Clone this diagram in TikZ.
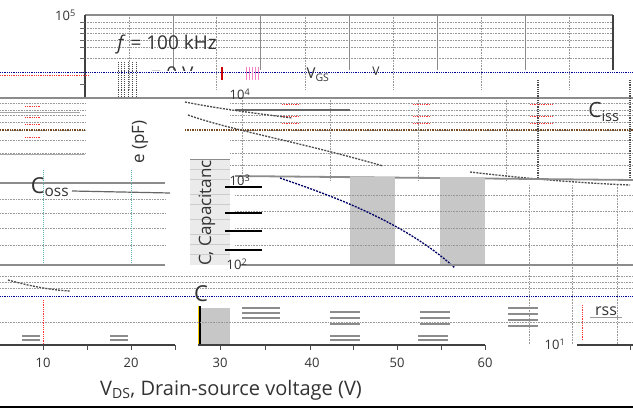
\documentclass[tikz,border=0pt]{standalone}
\usepackage{fontspec}
\setmainfont{Open Sans}
\begin{document}
\begin{tikzpicture}[x=1pt,y=-1pt,
  lbl/.style={inner sep=0pt,anchor=center,text=black!80},
  tick/.style={lbl,font=\fontsize{13}{14}\selectfont},
  majgrid/.style={draw=black!45,line width=1pt},
  mingrid/.style={draw=black!40,densely dotted,line width=0.6pt},
  axisline/.style={draw=black!75,line width=1.6pt},
  frameline/.style={draw=black!45,line width=1.8pt},
  curve/.style={draw=black!70,dash pattern=on 2pt off 1.2pt,line width=1.3pt},
  bluedot/.style={draw=blue!60!black,densely dotted,line width=0.8pt},
  reddot/.style={draw=red!80,densely dotted,line width=0.8pt},
  graybox/.style={fill=black!22,draw=none}]
\useasboundingbox (0,0) rectangle (633,409);
\fill[white] (0,0) rectangle (633,409);

% ---------- top panel ----------
\foreach \y in {22,28,33,40,47,58} \draw[mingrid] (85,\y) -- (613,\y);
\foreach \x in {129,216,305,393,481,569} \draw[mingrid] (\x,15) -- (\x,90);
\foreach \x in {173,260,349,437,525} \draw[majgrid] (\x,15) -- (\x,70);
\draw[frameline] (85,15) -- (613,15);
\draw[axisline] (613,15) -- (613,70);
\draw[axisline] (85,15) -- (85,98);
\foreach \y in {22,28,33,40,47,58,72,84} \draw[draw=black!60,line width=0.8pt] (80,\y) -- (85,\y);
\node[tick,anchor=east] (y5) at (76,15) {10\textsuperscript{5}};
\node[lbl,font=\fontsize{19}{20}\selectfont] (freq) at (167,45) {\textit{f} = 100 kHz};
\draw[bluedot] (0,72) -- (633,72);
\draw[reddot] (0,75) -- (90,75);
\foreach \x in {118,121,124,128,132,136} \draw[draw=black!70,densely dotted,line width=0.9pt] (\x,62) -- (\x,98);
\begin{scope}
\clip (140,55) rectangle (200,71);
\node[lbl,font=\fontsize{19}{20}\selectfont] (vgs0) at (172,74) {= 0 V};
\end{scope}
\draw[draw=red!80!black,line width=1.5pt] (222,67) -- (222,80);
\foreach \x in {246,249,252,255,258} \draw[draw=magenta!50,line width=1pt] (\x,67) -- (\x,80);
\node[lbl,font=\fontsize{15}{16}\selectfont] (vgs) at (318,75) {V\textsubscript{GS}};
\node[lbl,font=\fontsize{12}{13}\selectfont] (vv) at (376,71) {V};

% ---------- band 2 (10^4) ----------
\draw[frameline] (0,98) -- (633,98);
\foreach \y in {103,110,115,122,130,140,153} \draw[mingrid] (0,\y) -- (85,\y);
\foreach \y in {103,110,115,122,130,140,153,165} \draw[mingrid] (230,\y) -- (633,\y);
\draw[draw=brown!60!black,densely dotted,line width=1.4pt] (0,130) -- (85,130);
\draw[draw=brown!60!black,densely dotted,line width=1.4pt] (185,130) -- (633,130);
\foreach \x in {242,330,418,506} \draw[mingrid] (\x,98) -- (\x,180);
\foreach \x in {538,630} \draw[draw=black!70,densely dotted,line width=1.2pt] (\x,80) -- (\x,180);
\foreach \y in {106,117,124,137} \draw[reddot] (25,\y) -- (40,\y);
\foreach \y in {104,116,123} \draw[reddot] (282,\y) -- (300,\y);
\foreach \y in {104,116,123} \draw[reddot] (413,\y) -- (430,\y);
\foreach \y in {104,116,123} \draw[reddot] (530,\y) -- (552,\y);
\draw[draw=black!60,line width=1.5pt] (235,110) -- (350,110);
\draw[draw=black!35,line width=1pt] (0,113) -- (80,113);
\node[tick] (y4) at (240,94) {10\textsuperscript{4}};
\node[lbl,font=\fontsize{21}{23}\selectfont] (ciss) at (604,112) {C\textsubscript{iss}};
\draw[curve] (185,102) .. controls (215,108) and (245,112) .. (292,118);
\draw[curve] (188,115) .. controls (230,130) and (300,142) .. (383,166);
\draw[curve] (470,172) .. controls (530,179) and (580,183) .. (630,185);
\draw[draw=black!35,line width=1pt] (0,155) -- (85,155);
\node[lbl,font=\fontsize{17}{18}\selectfont,rotate=90] (pf) at (140,142) {e (pF)};

% ---------- band 3 (10^3) ----------
\draw[frameline] (0,183) -- (165,183);
\draw[frameline] (190,160) -- (230,160);
\draw[frameline] (235,176) -- (633,180);
\node[lbl,font=\fontsize{22}{24}\selectfont] (coss) at (50,187) {C\textsubscript{oss}};
\draw[draw=black!60,line width=1.2pt] (72,191) -- (170,193);
\foreach \y in {199,213,228,245} \draw[mingrid] (0,\y) -- (165,\y);
\foreach \x in {43,131} \draw[draw=teal!60,densely dotted,line width=1pt] (\x,170) -- (\x,265);
\draw[fill=black!8,draw=none] (190,160) rectangle (230,265);
\foreach \y in {170,180,195,205,220,235,245,255} \draw[draw=black!20,line width=1pt] (190,\y) -- (230,\y);
\draw[graybox] (350,177) rectangle (395,265);
\draw[graybox] (440,177) rectangle (485,265);
\foreach \y in {195,211,228,245} \draw[mingrid] (235,\y) -- (633,\y);
\foreach \y in {187,213,231,250} \draw[draw=black,line width=1.5pt] (225,\y) -- (262,\y);
\node[tick] (y3) at (240,180) {10\textsuperscript{3}};
\node[lbl,font=\fontsize{17}{18}\selectfont,rotate=90] (cap) at (207,213) {C, Capacitanc};
\draw[curve,draw=blue!40!black] (280,178) .. controls (320,192) and (400,218) .. (455,268);
\foreach \x in {529,572,617} \draw[mingrid] (\x,185) -- (\x,345);

% ---------- band 4 (10^2) ----------
\draw[frameline] (0,265) -- (165,265);
\draw[frameline] (240,265) -- (633,265);
\foreach \y in {276,282,288} \draw[mingrid] (0,\y) -- (633,\y);
\draw[bluedot] (0,296) -- (633,296);
\draw[curve] (8,280) .. controls (30,286) and (50,290) .. (70,291);
\node[tick] (y2) at (237,264) {10\textsuperscript{2}};
\node[lbl,font=\fontsize{22}{24}\selectfont] (crss) at (201,294) {C};
\node[lbl,font=\fontsize{16}{17}\selectfont] (rss) at (606,311) {rss};
\draw[draw=black!40,line width=1pt] (590,318) -- (622,318);
\draw[graybox] (200,308) rectangle (230,345);
\draw[draw=black,line width=2pt] (200,306) -- (200,345);
\draw[draw=yellow!70!orange,line width=0.8pt] (198,306) -- (198,345);
\foreach \y in {308,313,318} \draw[draw=black!45,line width=1.2pt] (242,\y) -- (280,\y);
\foreach \y in {312,318,324} \draw[draw=black!45,line width=1.2pt] (330,\y) -- (360,\y);
\foreach \y in {312,318,324} \draw[draw=black!45,line width=1.2pt] (420,\y) -- (450,\y);
\foreach \y in {308,314,320,326} \draw[draw=black!45,line width=1.2pt] (508,\y) -- (538,\y);
\foreach \y in {336,340} \draw[draw=black!45,line width=1.2pt] (22,\y) -- (40,\y);
\foreach \y in {336,340} \draw[draw=black!45,line width=1.2pt] (110,\y) -- (128,\y);
\foreach \y in {336,340} \draw[draw=black!45,line width=1.2pt] (330,\y) -- (360,\y);
\foreach \y in {336,340} \draw[draw=black!45,line width=1.2pt] (418,\y) -- (448,\y);
\draw[mingrid] (0,322) -- (633,322);
\draw[reddot] (43,300) -- (43,345);
\draw[reddot] (582,305) -- (582,340);
\node[tick] (y1) at (555,344) {10\textsuperscript{1}};

% ---------- x axis ----------
\draw[axisline] (0,345) -- (175,345);
\draw[axisline] (198,345) -- (485,345);
\draw[axisline] (577,345) -- (633,345);
\foreach \x in {43,87,131,175,220,265,310,353,397,441,485,630}
  \draw[draw=black!70,line width=1pt] (\x,345) -- (\x,350);
\node[tick] (x10) at (43,363) {10};
\node[tick] (x20) at (131,363) {20};
\node[tick] (x30) at (220,363) {30};
\node[tick] (x40) at (312,363) {40};
\node[tick] (x50) at (397,363) {50};
\node[tick] (x60) at (485,363) {60};
\node[lbl,font=\fontsize{20}{21}\selectfont] (xlab) at (231,390) {V\textsubscript{DS}, Drain-source voltage (V)};
\draw[draw=black,line width=1.6pt] (0,407) -- (633,407);
\end{tikzpicture}
\end{document}
